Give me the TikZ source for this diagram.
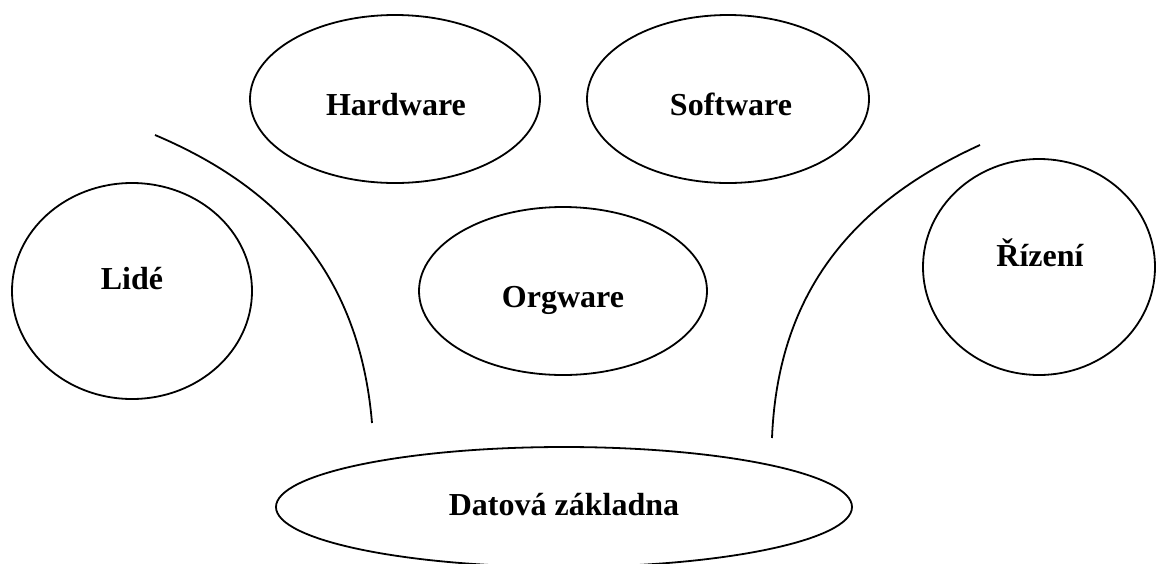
\documentclass[tikz,border=0pt]{standalone}
\usepackage{fontspec}
\setmainfont{Liberation Serif}
\usetikzlibrary{shapes.geometric}
\begin{document}
\begin{tikzpicture}[x=0.5pt,y=-0.5pt,
  blob/.style={draw, ellipse, line width=0.9pt, inner sep=0pt},
  lbl/.style={anchor=base, inner sep=0pt, font=\bfseries\fontsize{16}{19}\selectfont},
  divider/.style={line width=0.9pt}]
\useasboundingbox (0,0) rectangle (1157,563);

% ellipses (one unit is half a point, so sizes are given in pt)
\node[blob, minimum width=145pt, minimum height=84pt]  (hw)  at (395,99)  {};
\node[blob, minimum width=141pt, minimum height=84pt]  (sw)  at (728,99)  {};
\node[blob, minimum width=120pt, minimum height=108pt] (lid) at (132,291) {};
\node[blob, minimum width=116pt, minimum height=108pt] (riz) at (1039,267) {};
\node[blob, minimum width=144pt, minimum height=84pt]  (org) at (563,291) {};
\node[blob, minimum width=288pt, minimum height=60pt]  (dat) at (564,507) {};

% labels
\node[lbl] (hwt)  at (396,115)  {Hardware};
\node[lbl] (swt)  at (731,115)  {Software};
\node[lbl] (lidt) at (132,289)  {Lidé};
\node[lbl] (rizt) at (1040,266) {Řízení};
\node[lbl] (orgt) at (563,307)  {Orgware};
\node[lbl] (datt) at (564,515)  {Datová základna};

% dividing curves
\coordinate (la) at (155,135);
\coordinate (lb) at (372,423);
\coordinate (ra) at (980,145);
\coordinate (rb) at (772,438);
\draw[divider] (la) .. controls (285,190) and (360,280) .. (lb);
\draw[divider] (ra) .. controls (855,202) and (778,290) .. (rb);
\end{tikzpicture}
\end{document}
